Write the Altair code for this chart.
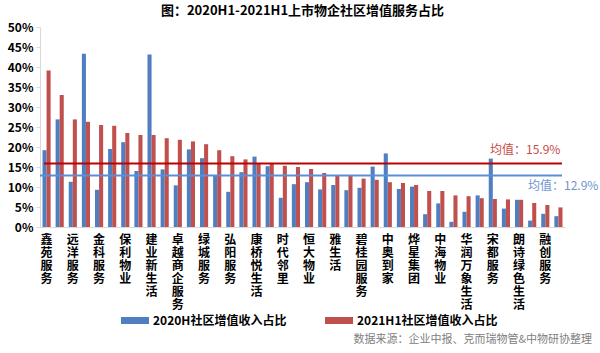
import altair as alt
import pandas as pd

FONT = "Noto Sans CJK SC"

# 40 companies (only every other one is labelled in the original chart)
labels = ["鑫苑服务", "远洋服务", "金科服务", "保利物业", "建业新生活", "卓越商企服务",
          "绿城服务", "弘阳服务", "康桥悦生活", "时代邻里", "恒大物业", "雅生活",
          "碧桂园服务", "中奥到家", "烨星集团", "中海物业", "华润万象生活", "宋都服务",
          "朗诗绿色生活", "融创服务"]

v2020 = [19.2, 26.9, 11.3, 43.3, 9.3, 19.5, 21.2, 14.0, 43.1, 14.4,
         10.4, 19.4, 17.2, 13.0, 8.8, 13.7, 17.6, 15.2, 7.3, 10.7,
         11.2, 9.4, 10.5, 9.2, 9.8, 15.1, 18.4, 9.5, 10.1, 3.2,
         5.9, 1.3, 3.8, 7.9, 17.1, 4.6, 6.8, 1.6, 3.3, 2.7]
v2021 = [39.1, 33.0, 26.9, 26.3, 25.5, 25.3, 23.5, 23.0, 23.0, 22.2,
         21.8, 21.4, 20.7, 19.2, 17.7, 16.9, 15.9, 15.9, 15.3, 15.0,
         14.5, 13.5, 13.0, 13.0, 12.1, 11.8, 11.2, 11.0, 10.5, 9.0,
         9.0, 7.9, 7.7, 7.2, 7.0, 6.9, 6.8, 6.0, 5.5, 4.9]

series = ["2020H社区增值收入占比", "2021H1社区增值收入占比"]
ytick_values = [0, 0.05, 0.10, 0.15, 0.20, 0.25, 0.30, 0.35, 0.40, 0.45, 0.50]
mean2020 = 12.9
mean2021 = 15.9

n = len(v2020)
rows = []
for i in range(n):
    rows.append({"idx": i, "series": series[0], "value": v2020[i] / 100})
    rows.append({"idx": i, "series": series[1], "value": v2021[i] / 100})
df = pd.DataFrame(rows)

lab_df = pd.DataFrame({"idx": [2 * i for i in range(len(labels))],
                       "text": ["\n".join(list(s)) for s in labels]})

xscale = alt.Scale(domain=list(range(n)), paddingInner=0.38, paddingOuter=0.19)
yscale = alt.Scale(domain=[0, 0.5])
xaxis = alt.Axis(labels=False, ticks=False, title=None, domainColor="#d9d9d9")
yaxis = alt.Axis(values=ytick_values, format=".0%", title=None,
                 grid=False, domainColor="#d9d9d9", tickColor="#d9d9d9",
                 tickSize=4, labelFont=FONT, labelFontSize=12, labelFontWeight="bold",
                 labelColor="#000000", labelPadding=3, labelOverlap=False)

bars = alt.Chart(df).mark_bar().encode(
    x=alt.X("idx:O", scale=xscale, axis=xaxis),
    xOffset=alt.XOffset("series:N", sort=series, scale=alt.Scale(paddingInner=0)),
    y=alt.Y("value:Q", scale=yscale, axis=yaxis),
    color=alt.Color("series:N", sort=series,
                    scale=alt.Scale(domain=series, range=["#4f7ec1", "#c0504d"]),
                    legend=alt.Legend(orient="none", legendX=88, legendY=286.5,
                                      direction="horizontal", title=None,
                                      symbolType="M-2,-0.5H2V0.5H-2Z", symbolSize=196,
                                      symbolStrokeWidth=0, labelOffset=11,
                                      columnPadding=38, labelFont=FONT, labelFontSize=12,
                                      labelFontWeight="bold", labelColor="#000000",
                                      labelLimit=300, padding=0)),
)

xlabels = alt.Chart(lab_df).mark_text(
    baseline="top", align="center", lineBreak="\n", font=FONT, fontSize=12,
    fontWeight="bold", lineHeight=13, color="#000000"
).encode(x=alt.X("idx:O", scale=xscale, axis=xaxis), y=alt.value(208), text="text:N")

means = pd.DataFrame({"m": [mean2021 / 100, mean2020 / 100],
                      "name": ["2021", "2020"],
                      "lab": [f"均值：{mean2021}%", f"均值：{mean2020}%"]})

rule_red = alt.Chart(means[means.name == "2021"]).mark_rule(color="#c00000", strokeWidth=2).encode(
    y=alt.Y("m:Q", scale=yscale, axis=yaxis), x=alt.value(4), x2=alt.value(522))
rule_blue = alt.Chart(means[means.name == "2020"]).mark_rule(color="#5b8fd5", strokeWidth=2).encode(
    y=alt.Y("m:Q", scale=yscale, axis=yaxis), x=alt.value(0), x2=alt.value(522))

lab_red = alt.Chart(means[means.name == "2021"]).mark_text(
    align="left", baseline="middle", dy=-13, font=FONT, fontSize=12, color="#c84a4a"
).encode(y=alt.Y("m:Q", scale=yscale, axis=yaxis), x=alt.value(450), text="lab:N")
lab_blue = alt.Chart(means[means.name == "2020"]).mark_text(
    align="left", baseline="middle", dy=11, font=FONT, fontSize=12, color="#6f94d1"
).encode(y=alt.Y("m:Q", scale=yscale, axis=yaxis), x=alt.value(488), text="lab:N")

source = alt.Chart(pd.DataFrame({"t": ["数据来源：企业中报、克而瑞物管&中物研协整理"]})).mark_text(
    align="right", baseline="middle", font=FONT, fontSize=11, color="#808080"
).encode(x=alt.value(552), y=alt.value(313), text="t:N")

chart = alt.layer(bars, xlabels, rule_red, rule_blue, lab_red, lab_blue, source).properties(
    width=525, height=200,
    title=alt.TitleParams("图：2020H1-2021H1上市物企社区增值服务占比", font=FONT,
                          fontSize=13, fontWeight="bold", color="#000000",
                          anchor="middle", offset=3),
    autosize=alt.AutoSizeParams(type="none"),
    padding={"left": 40, "top": 27, "right": 35, "bottom": 126},
).configure_view(stroke=None)

chart.save("out.html", embed_options={"renderer": "svg", "actions": False})
